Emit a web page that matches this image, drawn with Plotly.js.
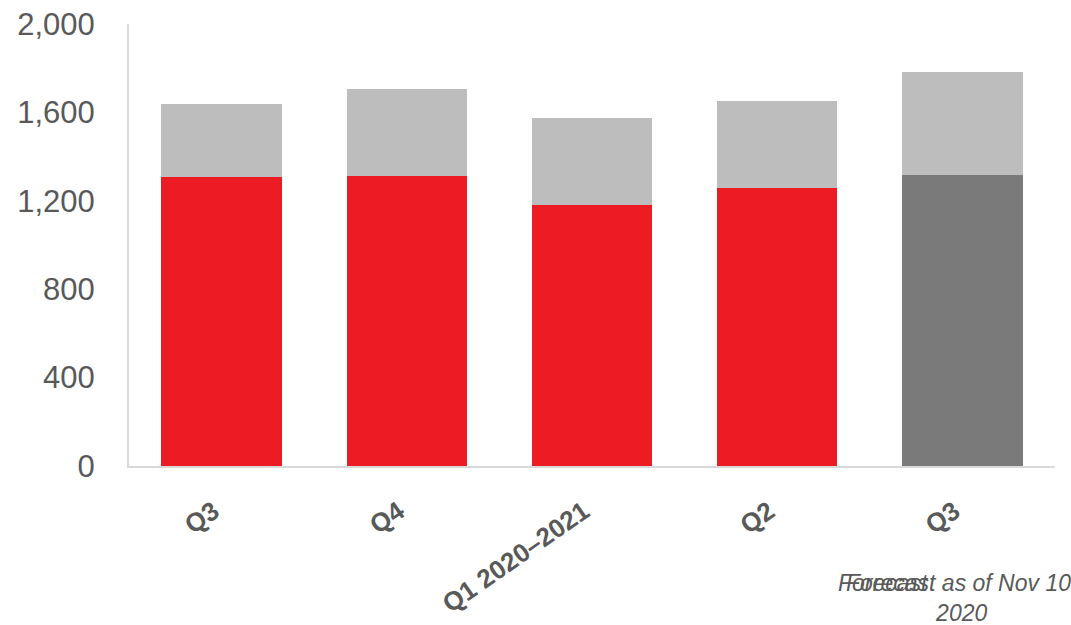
<!DOCTYPE html>
<html>
<head>
<meta charset="utf-8">
<script src="https://cdn.plot.ly/plotly-3.0.1.min.js"></script>
<style>
  html, body { margin: 0; padding: 0; background: #ffffff; }
  #chart { width: 1071px; height: 625px; }
</style>
</head>
<body>
<div id="chart"></div>
<script>
// Data
const periodLabels = ["Q3", "Q4", "Q1 2020\u20132021", "Q2", "Q3"];
const baseValues   = [1309, 1312, 1181, 1259, 1317];
const upperValues  = [329, 394, 394, 393, 466];
const baseColors   = ["#ED1C24", "#ED1C24", "#ED1C24", "#ED1C24", "#7A7A7A"];
const yTickValues  = [0, 400, 800, 1200, 1600, 2000];
const footnoteMain = "Forecast as of Nov 10,<br>2020";
const footnoteEcho = "Forecast";

const xIdx = periodLabels.map((_, i) => i);

const traces = [
  {
    type: "bar",
    x: xIdx,
    y: baseValues,
    marker: { color: baseColors, line: { width: 0 } },
    hoverinfo: "skip"
  },
  {
    type: "bar",
    x: xIdx,
    y: upperValues,
    marker: { color: "#BDBDBD", line: { width: 0 } },
    hoverinfo: "skip"
  }
];

const layout = {
  width: 1071,
  height: 625,
  margin: { l: 129, r: 16, t: 24, b: 159 },
  paper_bgcolor: "#ffffff",
  plot_bgcolor: "#ffffff",
  barmode: "stack",
  bargap: 0.35,
  showlegend: false,
  font: { family: "Liberation Sans, Arial, sans-serif", color: "#595959" },
  xaxis: {
    range: [-0.5, 4.5],
    tickmode: "array",
    tickvals: xIdx,
    ticktext: periodLabels,
    tickangle: -35,
    tickfont: { size: 26, color: "#595959", family: "Liberation Sans, Arial, sans-serif", weight: "bold" },
    ticks: "",
    ticklabelstandoff: 18,
    ticklabelshift: -8,
    showgrid: false,
    zeroline: false,
    showline: true,
    linecolor: "#D9D9D9",
    linewidth: 2,
    fixedrange: true
  },
  yaxis: {
    range: [0, 2000],
    tickmode: "array",
    tickvals: yTickValues,
    tickformat: ",d",
    tickfont: { size: 31, color: "#595959", family: "Liberation Sans, Arial, sans-serif" },
    ticks: "",
    ticklabelstandoff: 26,
    showgrid: false,
    zeroline: false,
    showline: true,
    linecolor: "#D9D9D9",
    linewidth: 2,
    fixedrange: true
  },
  annotations: [
    {
      xref: "paper", yref: "paper",
      x: 0.7635, y: -0.2647,
      xanchor: "left", yanchor: "middle",
      text: "<i>" + footnoteEcho + "</i>",
      showarrow: false,
      font: { size: 23, color: "#595959", family: "Liberation Sans, Arial, sans-serif" }
    },
    {
      xref: "paper", yref: "paper",
      x: 0.8985, y: -0.2986,
      xanchor: "center", yanchor: "middle",
      align: "center",
      text: "<i>" + footnoteMain + "</i>",
      showarrow: false,
      font: { size: 23, color: "#595959", family: "Liberation Sans, Arial, sans-serif" }
    }
  ]
};

Plotly.newPlot("chart", traces, layout, { displayModeBar: false, staticPlot: true });
</script>
</body>
</html>
